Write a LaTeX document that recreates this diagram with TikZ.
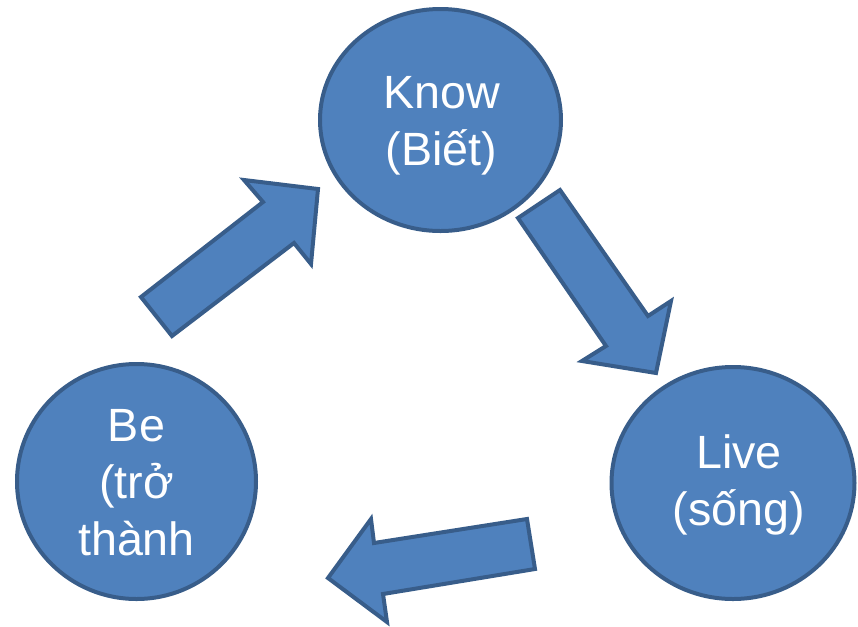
\documentclass[tikz,border=0pt]{standalone}
\usepackage{fontspec}
\setmainfont{Liberation Sans}
\usetikzlibrary{shapes.geometric}
\definecolor{bubblefill}{HTML}{4F81BD}
\definecolor{bubbleline}{HTML}{385D8A}

\begin{document}
\begin{tikzpicture}[x=0.75pt, y=-0.75pt,
  bubble/.style={ellipse, draw=bubbleline, fill=bubblefill, line width=3pt, inner sep=0pt},
  bubbletext/.style={inner sep=0pt, text=white, align=center,
    font=\fontsize{35}{42.75}\selectfont},
  blockarrow/.style={draw=bubbleline, fill=bubblefill, line width=3pt, line join=miter}]
  \useasboundingbox (0,0) rectangle (858,626);

  \node[bubble, minimum width=180.75pt, minimum height=166.5pt] (know) at (440.5,120) {};
  \node[bubble, minimum width=182.25pt, minimum height=174pt] (live) at (733,483) {};
  \node[bubble, minimum width=179.25pt, minimum height=176.25pt] (be) at (136.5,481.5) {};
  \node[bubbletext] (knowtext) at ([shift={(1,6)}]know.center) {Know\\(Biết)};
  \node[bubbletext] (livetext) at ([shift={(6,2)}]live.center) {Live\\(sống)};
  \node[bubbletext] (betext) at ([shift={(0,1)}]be.center) {Be\\(trở\\thành};

  % block arrows round the cycle
  \draw[blockarrow] (141,297) -- (263,202) -- (244,180) -- (318,189) -- (311,264) -- (294,243) -- (172,336) -- cycle;
  \draw[blockarrow] (518,218) -- (560,190) -- (648,316) -- (671,301) -- (656,373) -- (582,361) -- (606,346) -- cycle;
  \draw[blockarrow] (527,519) -- (535,569) -- (383,594) -- (387,622) -- (328,578) -- (371,519) -- (374,543) -- cycle;

\end{tikzpicture}
\end{document}
